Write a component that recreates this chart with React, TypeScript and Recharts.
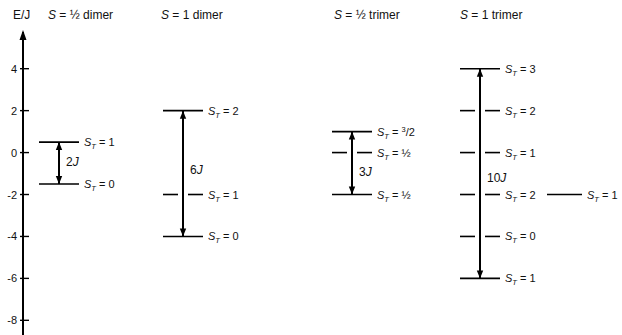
import React from "react"
import { ComposedChart, Line, ReferenceDot, XAxis, YAxis } from "recharts"

// energy axis (E/J)
const yTicks = [-8, -6, -4, -2, 0, 2, 4]
const groupNames = ["½ dimer", "1 dimer", "½ trimer", "1 trimer"]

// levels: energy (E/J) and total spin label, per cluster
const halfDimerEnergies = [0.5, -1.5]
const halfDimerSpins = ["1", "0"]
const oneDimerEnergies = [2, -2, -4]
const oneDimerSpins = ["2", "1", "0"]
const halfTrimerEnergies = [1, 0, -2]
const halfTrimerSpins = ["3/2", "½", "½"]
const oneTrimerEnergies = [4, 2, 0, -2, -4, -6]
const oneTrimerSpins = ["3", "2", "1", "2", "0", "1"]
const oneTrimerSideEnergies = [-2]
const oneTrimerSideSpins = ["1"]
// where the "nJ" gap label sits along each arrow
const gapLabelEnergies = [-0.45, -0.85, -0.95, -1.2]

const groups = [
  { energies: halfDimerEnergies, spins: halfDimerSpins },
  { energies: oneDimerEnergies, spins: oneDimerSpins },
  { energies: halfTrimerEnergies, spins: halfTrimerSpins },
  { energies: oneTrimerEnergies, spins: oneTrimerSpins },
]

// layout only (x in plot units, axis at 0)
const groupX = [36, 160, 329, 457]
const titleLeft = [48, 161, 334, 460]
const HALF = 20
const GAP = 5
const SIDE = [67, 102]
const Y_DOMAIN: [number, number] = [-8.7, 5.75]
const FONT = "'Liberation Sans', Arial, Helvetica, sans-serif"

type Pt = { x: number; E: number; st?: string; head?: "up" | "down"; tag?: string }
type Seg = { id: string; points: Pt[]; width: number }

function buildSegments(): Seg[] {
  const segs: Seg[] = []
  groups.forEach((g, gi) => {
    const c = groupX[gi]
    const top = Math.max(...g.energies)
    const bot = Math.min(...g.energies)
    g.energies.forEach((e, i) => {
      if (e === top || e === bot) {
        segs.push({
          id: `l${gi}-${i}`,
          width: 1.6,
          points: [{ x: c - HALF, E: e }, { x: c + HALF, E: e, st: g.spins[i] }],
        })
      } else {
        segs.push({ id: `l${gi}-${i}a`, width: 1.6, points: [{ x: c - HALF, E: e }, { x: c - GAP, E: e }] })
        segs.push({
          id: `l${gi}-${i}b`,
          width: 1.6,
          points: [{ x: c + GAP, E: e }, { x: c + HALF, E: e, st: g.spins[i] }],
        })
      }
    })
    segs.push({
      id: `a${gi}`,
      width: 2,
      points: [
        { x: c, E: top, head: "up" },
        { x: c, E: gapLabelEnergies[gi], tag: `${top - bot}` },
        { x: c, E: bot, head: "down" },
      ],
    })
  })
  oneTrimerSideEnergies.forEach((e, i) => {
    const c = groupX[3]
    segs.push({
      id: `s${i}`,
      width: 1.3,
      points: [{ x: c + SIDE[0], E: e }, { x: c + SIDE[1], E: e, st: oneTrimerSideSpins[i] }],
    })
  })
  return segs
}

const segments = buildSegments()

function SpinText({ x, y, value }: { x: number; y: number; value: string }) {
  const frac = value === "3/2"
  return (
    <text x={x} y={y + 4} fontSize={11} fontFamily={FONT} fill="#111">
      <tspan fontStyle="italic">S</tspan>
      <tspan fontStyle="italic" fontSize={7.5} dy={3}>T</tspan>
      <tspan dy={-3}>{" = "}</tspan>
      {frac ? (
        <>
          <tspan fontSize={7.5} dy={-4}>3</tspan>
          <tspan dy={4}>/2</tspan>
        </>
      ) : (
        <tspan>{value}</tspan>
      )}
    </text>
  )
}

function renderDot(p: any) {
  const { cx, cy, payload, index } = p
  const k = `${index}-${cx}-${cy}`
  if (payload.head === "up") {
    return <polygon key={k} points={`${cx},${cy} ${cx - 3.2},${cy + 8} ${cx + 3.2},${cy + 8}`} fill="#000" />
  }
  if (payload.head === "down") {
    return <polygon key={k} points={`${cx},${cy} ${cx - 3.2},${cy - 8} ${cx + 3.2},${cy - 8}`} fill="#000" />
  }
  if (payload.tag) {
    return (
      <text key={k} x={cx + 7} y={cy + 4} fontSize={12} fontFamily={FONT} fill="#111">
        {payload.tag}
        <tspan fontStyle="italic">J</tspan>
      </text>
    )
  }
  if (payload.st) {
    return (
      <g key={k}>
        <SpinText x={cx + 5} y={cy} value={payload.st} />
      </g>
    )
  }
  return <g key={k} />
}

function AxisTick({ x, y, payload }: any) {
  return (
    <g>
      <line x1={x - 3} x2={x + 6} y1={y} y2={y} stroke="#000" strokeWidth={1.4} />
      <text x={x - 6} y={y + 4} textAnchor="end" fontSize={11} fontFamily={FONT} fill="#111">
        {payload.value}
      </text>
    </g>
  )
}

function AxisArrow({ cx, cy }: any) {
  return <polygon points={`${cx},${cy - 2} ${cx - 3.5},${cy + 8} ${cx + 3.5},${cy + 8}`} fill="#000" />
}

export default function App() {
  return (
    <div
      style={{
        position: "absolute",
        left: 0,
        top: 0,
        width: 622,
        height: 335,
        background: "#fff",
        fontFamily: FONT,
        color: "#111",
      }}
    >
      <div style={{ position: "absolute", left: 13, top: 8, fontSize: 12, lineHeight: "14px" }}>E/J</div>
      {groupNames.map((name, i) => (
        <div
          key={name}
          style={{ position: "absolute", left: titleLeft[i], top: 8, fontSize: 12, lineHeight: "14px", whiteSpace: "nowrap" }}
        >
          <i>S</i> = {name}
        </div>
      ))}
      <ComposedChart width={622} height={335} margin={{ top: 32, right: 0, bottom: 0, left: 0 }}>
        <XAxis type="number" dataKey="x" domain={[0, 599]} hide allowDataOverflow />
        <YAxis
          type="number"
          domain={Y_DOMAIN}
          ticks={yTicks}
          interval={0}
          width={23}
          allowDataOverflow
          axisLine={{ stroke: "#000", strokeWidth: 2 }}
          tickLine={false}
          tickSize={0}
          tickMargin={0}
          tick={<AxisTick />}
        />
        {segments.map((s) => (
          <Line
            key={s.id}
            data={s.points}
            dataKey="E"
            type="linear"
            stroke="#000"
            strokeWidth={s.width}
            dot={renderDot}
            activeDot={false}
            isAnimationActive={false}
          />
        ))}
        <ReferenceDot x={0} y={Y_DOMAIN[1]} ifOverflow="visible" shape={<AxisArrow />} />
      </ComposedChart>
    </div>
  )
}
